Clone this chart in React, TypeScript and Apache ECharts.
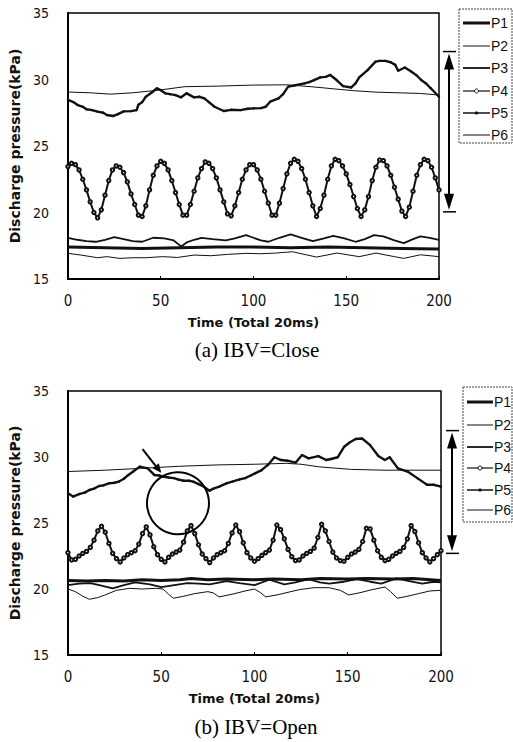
import React, { useEffect, useRef } from 'react';
import * as echarts from 'echarts';

// ---------- text ----------
const seriesNames = ['P1', 'P2', 'P3', 'P4', 'P5', 'P6'];
const captions = ['(a) IBV=Close', '(b) IBV=Open'];
const xName = 'Time (Total 20ms)';
const yName = 'Discharge pressure(kPa)';
const xMin = 0, xMax = 200, xStep = 50;
const yMin = 15, yMax = 35, yStep = 5;

// ---------- data: panel (a) IBV=Close ----------
// P4 is sampled every 2 time steps
const sampleTimes = Array.from({ length: 101 }, (_, i) => i * 2);
const p4Close = [
  23.45, 23.7, 23.6, 23.2, 22.5, 21.7, 20.8, 20.0, 19.6, 20.2,
  21.3, 22.4, 23.2, 23.5, 23.4, 23.0, 22.3, 21.4, 20.6, 19.8,
  19.7, 20.5, 21.7, 22.8, 23.5, 23.85, 23.7, 23.2, 22.4, 21.5,
  20.6, 19.8, 19.8, 20.6, 21.6, 22.6, 23.3, 23.8, 23.7, 23.3,
  22.6, 21.7, 20.8, 19.9, 19.75, 20.5, 21.5, 22.5, 23.2, 23.6,
  23.6, 23.2, 22.5, 21.6, 20.7, 19.8, 19.8, 20.7, 21.8, 22.9,
  23.7, 24.0, 23.85, 23.3, 22.5, 21.5, 20.5, 19.7, 20.3, 21.3,
  22.5, 23.5, 24.0, 23.9, 23.5, 22.9, 22.1, 21.2, 20.3, 19.7,
  20.2, 21.2, 22.4, 23.4, 23.95, 23.9, 23.5, 22.8, 21.9, 21.0,
  20.1, 19.7, 20.4, 21.6, 22.8, 23.6, 24.0, 23.9, 23.4, 22.6,
  21.7,
];
const p1CloseT = [0, 20, 40, 60, 80, 100, 120, 140, 160, 180, 200];
const p1CloseV = [17.4, 17.35, 17.3, 17.35, 17.4, 17.4, 17.35, 17.4, 17.35, 17.3, 17.25];
const p2CloseT = [0, 7, 16, 21, 28, 35, 42, 51, 59, 68, 77, 86, 96, 104, 112, 121, 134, 145, 157, 166, 176, 181, 190, 200];
const p2CloseV = [16.93, 16.8, 16.6, 16.68, 16.55, 16.6, 16.6, 16.68, 16.62, 16.8, 16.75, 16.85, 16.93, 16.9, 16.95, 17.05, 16.65, 16.95, 16.68, 16.95, 16.68, 16.55, 16.82, 16.68];
const p3CloseT = [0, 5, 10, 15, 20, 25, 30, 35, 40, 46, 52, 57, 61, 64, 68, 72, 78, 85, 90, 96, 100, 104, 108, 114, 120, 126, 132, 138, 143, 149, 155, 160, 165, 170, 176, 181, 186, 190, 195, 200];
const p3CloseV = [18.1, 17.95, 17.85, 17.8, 17.95, 18.15, 18.0, 17.85, 17.8, 18.1, 18.05, 17.9, 17.45, 17.75, 17.95, 18.1, 18.0, 17.9, 18.05, 18.3, 18.1, 17.9, 17.8, 18.1, 18.35, 18.1, 17.85, 18.05, 18.25, 18.05, 17.8, 18.0, 18.3, 18.2, 17.9, 17.7, 18.0, 18.2, 18.1, 17.95];
const p5CloseT = [0, 3, 5, 8, 10, 13, 16, 19, 21, 24.5, 27, 30, 34, 37, 38, 40, 42, 45, 48, 50, 52.5, 55, 58, 61, 64, 68, 71, 73.5, 76, 79, 84, 88, 93, 97, 100, 104, 106.6, 109, 113.5, 116, 118.7, 122, 127.5, 130, 132.7, 136, 139, 141.4, 144.8, 148.3, 152.7, 155, 157, 161.5, 165.8, 168, 171, 174, 176.4, 178, 181.6, 185, 188, 190.4, 193, 195.6, 200];
const p5CloseV = [28.46, 28.3, 28.1, 27.95, 27.76, 27.7, 27.58, 27.5, 27.33, 27.26, 27.4, 27.6, 27.62, 27.7, 28.1, 28.3, 28.7, 29.0, 29.34, 29.2, 28.96, 28.9, 28.83, 28.66, 28.96, 28.66, 28.7, 28.58, 28.3, 27.95, 27.63, 27.72, 27.7, 27.8, 27.83, 27.85, 27.95, 28.33, 28.58, 28.9, 29.46, 29.55, 29.71, 29.8, 29.96, 30.16, 30.2, 30.34, 29.96, 29.5, 29.4, 29.7, 30.16, 30.7, 31.34, 31.4, 31.4, 31.3, 31.1, 30.66, 30.9, 30.6, 30.3, 29.96, 29.7, 29.34, 28.7];
const p6CloseT = [0, 12, 23, 35, 49, 63, 80, 100, 118, 131, 143, 154, 166, 178, 190, 200];
const p6CloseV = [29.06, 29.0, 28.9, 29.0, 29.2, 29.46, 29.5, 29.58, 29.6, 29.46, 29.3, 29.16, 29.05, 29.0, 28.95, 28.83];

// ---------- data: panel (b) IBV=Open ----------
const p4Open = [
  22.75, 22.2, 22.25, 22.5, 22.7, 22.85, 23.15, 23.7, 24.4, 24.75,
  24.3, 23.45, 22.7, 22.3, 22.05, 22.35, 22.6, 22.75, 22.9, 23.4,
  24.2, 24.7, 24.1, 23.2, 22.6, 22.25, 22.05, 22.4, 22.65, 22.8,
  22.95, 23.55, 24.4, 24.8, 24.2, 23.35, 22.65, 22.3, 22.0, 22.35,
  22.6, 22.75, 22.9, 23.45, 24.25, 24.85, 24.35, 23.5, 22.75, 22.35,
  22.1, 22.3, 22.55, 22.75, 22.95, 23.7, 24.85, 24.5, 23.8, 23.0,
  22.45, 22.15, 22.2, 22.5, 22.7, 22.85, 23.1, 23.9, 24.9, 24.4,
  23.6, 22.8, 22.35, 22.15, 22.1, 22.4, 22.65, 22.8, 23.0, 23.6,
  24.6, 24.55, 23.7, 22.9, 22.4, 22.15, 22.25, 22.5, 22.7, 22.85,
  23.15, 23.8, 24.8, 24.35, 23.5, 22.75, 22.35, 22.05, 22.3, 22.6,
  22.9,
];
const p1OpenT = [0, 10, 20, 30, 40, 50, 60, 66, 75, 85, 100, 110, 125, 135, 150, 160, 175, 185, 200];
const p1OpenV = [20.65, 20.6, 20.65, 20.6, 20.7, 20.65, 20.7, 20.8, 20.7, 20.75, 20.7, 20.75, 20.7, 20.8, 20.75, 20.8, 20.75, 20.8, 20.65];
const p2OpenT = [0, 4, 8, 11.5, 16, 20, 26, 33, 40, 47, 51, 54, 56.5, 62, 68, 75, 78, 81, 88, 95, 100, 103, 106, 112, 118, 124, 132, 140, 146, 150.5, 156, 163, 170, 173, 176.5, 182, 188, 194, 200];
const p2OpenV = [20.0, 19.8, 19.45, 19.22, 19.35, 19.55, 19.9, 20.05, 20.0, 20.05, 20.0, 19.6, 19.3, 19.45, 19.65, 19.8, 19.7, 19.4, 19.6, 19.85, 20.0, 19.75, 19.4, 19.55, 19.75, 19.95, 20.1, 20.1, 19.9, 19.55, 19.7, 19.95, 20.15, 19.8, 19.3, 19.45, 19.65, 19.85, 19.9];
const p3OpenT = [0, 6, 12, 18, 24, 30, 36, 44, 50, 57, 64, 70, 76, 85, 92, 100, 108, 116, 122, 129, 135, 140, 148, 155, 162, 168, 176, 183, 190, 196, 200];
const p3OpenV = [20.3, 20.4, 20.45, 20.25, 20.05, 20.3, 20.5, 20.35, 20.15, 20.3, 20.45, 20.4, 20.35, 20.6, 20.45, 20.3, 20.7, 20.35, 20.5, 20.75, 20.5, 20.4, 20.55, 20.75, 20.55, 20.4, 20.8, 20.6, 20.4, 20.55, 20.5];
const p5OpenT = [0, 2.8, 6.3, 9, 11.5, 14, 16.7, 19, 21.9, 25, 27.2, 30, 32.4, 35, 38.5, 42.8, 46.3, 49, 51.5, 54, 56.8, 59, 62, 65, 67.2, 70, 72.4, 75.9, 78, 81.1, 85, 88.1, 92, 95, 98, 100.3, 103.8, 107.2, 110.7, 114.2, 117.7, 122, 125.5, 129, 134.2, 138.5, 141, 144.6, 148.1, 151, 154.2, 157.7, 162, 166.4, 169.9, 172.5, 176.9, 182.1, 187.3, 192.5, 196, 200];
const p5OpenV = [27.25, 27.0, 27.2, 27.3, 27.5, 27.6, 27.8, 27.85, 28.0, 28.05, 28.13, 28.35, 28.64, 28.9, 29.27, 29.14, 28.64, 28.6, 28.5, 28.45, 28.4, 28.3, 28.2, 28.2, 28.13, 27.95, 27.8, 27.45, 27.6, 27.75, 28.0, 28.13, 28.3, 28.4, 28.6, 28.76, 29.0, 29.4, 29.98, 29.77, 29.72, 29.57, 30.15, 29.9, 30.07, 29.77, 29.85, 29.98, 30.78, 31.1, 31.36, 31.4, 30.9, 30.07, 29.77, 29.98, 29.14, 28.9, 28.4, 27.9, 27.9, 27.75];
const p6OpenT = [0, 20, 39, 60, 80, 100, 117, 125, 135, 152, 170, 200];
const p6OpenV = [28.9, 29.0, 29.14, 29.3, 29.4, 29.45, 29.52, 29.45, 29.25, 29.06, 29.0, 29.0];

// ---------- annotations (values in data units) ----------
const closeRange = [20.05, 32.1];
const openRange = [22.7, 32.0];
const circleCenter = [59, 26.5];
const pointerFrom = [40, 30.6];
const pointerTo = [50, 28.8];

// ---------- styling ----------
const INK = '#111';
const lineWidths: Record<string, number> = { P1: 3, P2: 1, P3: 1.8, P4: 2, P5: 2.4, P6: 1 };
const tickFont = "'Liberation Sans Narrow', 'DejaVu Sans Condensed', 'Liberation Sans', sans-serif";
const nameFont = "'DejaVu Sans', sans-serif";

const zip = (t: number[], v: number[]) => t.map((x, i) => [x, v[i]]);

const panels = [
  {
    P1: zip(p1CloseT, p1CloseV), P2: zip(p2CloseT, p2CloseV), P3: zip(p3CloseT, p3CloseV),
    P4: zip(sampleTimes, p4Close), P5: zip(p5CloseT, p5CloseV), P6: zip(p6CloseT, p6CloseV),
  },
  {
    P1: zip(p1OpenT, p1OpenV), P2: zip(p2OpenT, p2OpenV), P3: zip(p3OpenT, p3OpenV),
    P4: zip(sampleTimes, p4Open), P5: zip(p5OpenT, p5OpenV), P6: zip(p6OpenT, p6OpenV),
  },
] as Record<string, number[][]>[];

const grids = [
  { left: 57, top: 13, width: 382, height: 266 },
  { left: 58, top: 391, width: 383, height: 264 },
];

function buildOption() {
  const xAxis = grids.map((_, k) => ({
    type: 'value', gridIndex: k, min: xMin, max: xMax, interval: xStep,
    name: xName, nameLocation: 'middle', nameGap: 37,
    nameTextStyle: { fontFamily: nameFont, fontWeight: 'bold', fontSize: 13, color: INK },
    axisLine: { show: true, onZero: false, lineStyle: { color: '#000', width: 2 } },
    axisTick: { show: true, inside: true, length: 3, lineStyle: { color: '#000', width: 1 } },
    axisLabel: { margin: 14, fontSize: 15, fontFamily: tickFont, color: INK },
    splitLine: { show: false },
  }));
  const yAxis = grids.map((_, k) => ({
    type: 'value', gridIndex: k, min: yMin, max: yMax, interval: yStep,
    name: yName, nameLocation: 'middle', nameGap: 34,
    nameTextStyle: { fontFamily: nameFont, fontWeight: 'bold', fontSize: 14, color: INK },
    axisLine: { show: true, onZero: false, lineStyle: { color: '#000', width: 2 } },
    axisTick: { show: false },
    axisLabel: { margin: 19, fontSize: 14, fontFamily: tickFont, color: INK },
    splitLine: { show: false },
  }));
  const series: any[] = [];
  panels.forEach((p, k) => {
    seriesNames.forEach((n) => {
      series.push({
        type: 'line', name: n, xAxisIndex: k, yAxisIndex: k, data: p[n],
        silent: true,
        showSymbol: n === 'P4' || n === 'P5',
        showAllSymbol: true,
        symbol: n === 'P4' ? 'emptyCircle' : 'circle',
        symbolSize: n === 'P4' ? 3.4 : 2.4,
        lineStyle: { color: INK, width: lineWidths[n] },
        itemStyle: { color: INK, borderColor: INK, borderWidth: n === 'P4' ? 1 : 0 },
        z: n === 'P1' ? 3 : 2,
      });
    });
  });
  return {
    animation: false,
    backgroundColor: '#fff',
    grid: grids.map((g) => ({ ...g, show: true, borderColor: '#000', borderWidth: 1.5, backgroundColor: 'transparent' })),
    xAxis, yAxis, series,
  };
}

function legendGraphic(x: number, y: number, w: number, h: number, rows: number[], lx1: number, lx2: number) {
  const els: any[] = [
    { type: 'rect', shape: { x, y, width: w, height: h }, style: { fill: '#fff', stroke: '#444', lineWidth: 1, lineDash: [2, 1] }, z: 10 },
  ];
  seriesNames.forEach((n, i) => {
    const yc = rows[i];
    els.push({ type: 'line', shape: { x1: lx1, y1: yc, x2: lx2, y2: yc }, style: { stroke: INK, lineWidth: n === 'P4' ? 1.2 : lineWidths[n] === 2.4 ? 1.5 : lineWidths[n] }, z: 11 });
    if (n === 'P4') {
      els.push({ type: 'circle', shape: { cx: (lx1 + lx2) / 2, cy: yc, r: 2 }, style: { fill: '#fff', stroke: INK, lineWidth: 1 }, z: 12 });
    }
    if (n === 'P5') {
      els.push({ type: 'circle', shape: { cx: (lx1 + lx2) / 2, cy: yc, r: 1.6 }, style: { fill: INK }, z: 12 });
    }
    els.push({
      type: 'text', x: lx2 + 1, y: yc, z: 12,
      style: { text: n, font: "14px 'Liberation Sans', sans-serif", fill: INK, textAlign: 'left', textVerticalAlign: 'middle', align: 'left', verticalAlign: 'middle' },
    });
  });
  return els;
}

function rangeArrow(x: number, yTop: number, yBot: number) {
  const st = { stroke: '#000', lineWidth: 1.5 };
  return [
    { type: 'line', shape: { x1: x - 6, y1: yTop, x2: x + 7, y2: yTop }, style: st, z: 10 },
    { type: 'line', shape: { x1: x - 6, y1: yBot, x2: x + 7, y2: yBot }, style: st, z: 10 },
    { type: 'line', shape: { x1: x, y1: yTop + 12, x2: x, y2: yBot - 12 }, style: { stroke: '#000', lineWidth: 2 }, z: 10 },
    { type: 'polygon', shape: { points: [[x, yTop + 2], [x - 5, yTop + 18], [x + 5, yTop + 18]] }, style: { fill: '#000' }, z: 10 },
    { type: 'polygon', shape: { points: [[x, yBot - 2], [x - 5, yBot - 18], [x + 5, yBot - 18]] }, style: { fill: '#000' }, z: 10 },
  ];
}

export default function App() {
  const ref = useRef<HTMLDivElement>(null);
  useEffect(() => {
    if (!ref.current) return;
    const chart = echarts.init(ref.current, null, { renderer: 'svg' });
    chart.setOption(buildOption() as any);
    const px = (g: number, p: number[]) => chart.convertToPixel({ gridIndex: g } as any, p) as number[];

    const aRight = px(0, [xMax, yMin])[0];
    const bRight = px(1, [xMax, yMin])[0];
    const aTop = px(0, [xMax, closeRange[1]])[1];
    const aBot = px(0, [xMax, closeRange[0]])[1];
    const bTop = px(1, [xMax, openRange[1]])[1];
    const bBot = px(1, [xMax, openRange[0]])[1];

    const cc = px(1, circleCenter);
    const pf = px(1, pointerFrom);
    const pt = px(1, pointerTo);
    const dx = pt[0] - pf[0], dy = pt[1] - pf[1];
    const len = Math.sqrt(dx * dx + dy * dy) || 1;
    const ux = dx / len, uy = dy / len;
    const hl = 9, hw = 4;
    const bx = pt[0] - ux * hl, by = pt[1] - uy * hl;

    const graphic: any[] = [
      ...legendGraphic(459, 9, 53, 134, [23, 46, 68, 91, 113, 135], 463, 490),
      ...legendGraphic(463, 387, 49, 135, [402, 425, 447, 468, 490, 510], 467, 493),
      ...rangeArrow(aRight + 10, aTop, aBot),
      ...rangeArrow(bRight + 11, bTop, bBot),
      { type: 'circle', shape: { cx: cc[0], cy: cc[1], r: 31 }, style: { fill: 'none', stroke: '#000', lineWidth: 2 }, z: 10 },
      { type: 'line', shape: { x1: pf[0], y1: pf[1], x2: bx, y2: by }, style: { stroke: '#000', lineWidth: 2 }, z: 10 },
      { type: 'polygon', shape: { points: [[pt[0], pt[1]], [bx - uy * hw, by + ux * hw], [bx + uy * hw, by - ux * hw]] }, style: { fill: '#000' }, z: 10 },
      {
        type: 'text', x: 257, y: 350, z: 10,
        style: { text: captions[0], font: "21px 'Liberation Serif', serif", fill: '#000', textAlign: 'center', textVerticalAlign: 'middle', align: 'center', verticalAlign: 'middle' },
      },
      {
        type: 'text', x: 256, y: 727, z: 10,
        style: { text: captions[1], font: "21px 'Liberation Serif', serif", fill: '#000', textAlign: 'center', textVerticalAlign: 'middle', align: 'center', verticalAlign: 'middle' },
      },
    ];
    chart.setOption({ graphic });
    return () => chart.dispose();
  }, []);
  return <div ref={ref} style={{ position: 'absolute', left: 0, top: 0, width: 513, height: 742, background: '#fff' }} />;
}
